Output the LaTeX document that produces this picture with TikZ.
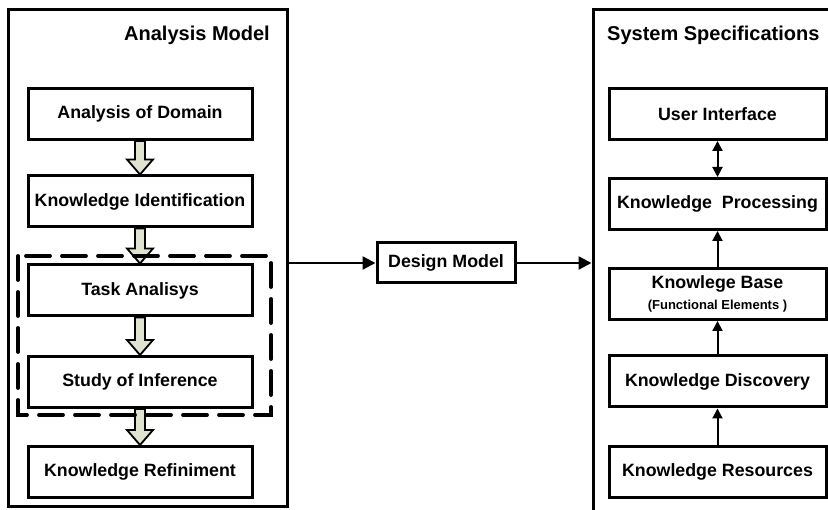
\documentclass[tikz,border=0pt]{standalone}
\usepackage{fontspec}
\setmainfont{Liberation Sans}
\usepackage{xcolor}
\usetikzlibrary{arrows.meta, positioning, calc}
\definecolor{sage}{HTML}{DFE3CF}
\tikzset{
  panel/.style={rectangle, draw, line width=3pt, inner sep=0pt},
  box/.style={rectangle, draw, line width=3pt, minimum height=51pt, align=center, font=\fontsize{17.8}{20}\selectfont\bfseries},
  lbox/.style={box, minimum width=224pt},
  rbox/.style={box, minimum width=217pt},
  title/.style={font=\fontsize{20}{24}\selectfont\bfseries, inner sep=0pt},
  arrow/.style={-{Triangle[length=10pt,width=10pt]}, line width=2pt},
  bigarrow/.style={-{Triangle[length=13pt,width=13pt]}, line width=2.4pt},
  fatarr/.style={draw, fill=sage, line width=1.8pt, line join=miter},
}
\newcommand\fatarrow[2]{%
  \draw[fatarr] let \p1=(#1.south), \p2=(#2.north) in
    (\x1-5pt,\y1) -- (\x1-5pt,\y2+15pt) -- (\x1-13pt,\y2+15pt) -- (\x1,\y2)
    -- (\x1+13pt,\y2+15pt) -- (\x1+5pt,\y2+15pt) -- (\x1+5pt,\y1) -- cycle;}

\begin{document}
\begin{tikzpicture}[x=1pt, y=1pt]
    \path[use as bounding box, clip] (0,0) rectangle (828,510);

    % analysis side
    \node[panel, minimum width=279pt, minimum height=497pt] (leftpanel) at (147.5,251.5) {};
    \node[title, anchor=east] (lefttitle) at (270,475) {Analysis Model};
    \node[lbox] (domain) at (140,396) {Analysis of Domain};
    \node[lbox] (ident) at (140,308.5) {Knowledge Identification};
    \node[lbox] (task) at (140,219.5) {Task Analisys};
    \node[lbox] (infer) at (140,128) {Study of Inference};
    \node[lbox] (refine) at (140,38) {Knowledge Refiniment};
    \fatarrow{domain}{ident}
    \fatarrow{ident}{task}
    \fatarrow{task}{infer}
    \fatarrow{infer}{refine}
    \draw[dashed, line width=3.8pt, dash pattern=on 24pt off 12pt, line cap=round]
      (18,254) rectangle (271,95);

    % design
    \node[box, minimum width=138pt, minimum height=40pt] (design) at (446,247) {Design Model};

    % specification side
    \node[panel, minimum width=260pt, minimum height=520pt] (rightpanel) at (723,240) {};
    \node[title, anchor=west] (righttitle) at (607,475) {System Specifications};
    \node[rbox] (ui) at (717.5,396) {User Interface};
    \node[rbox] (proc) at (717.5,306) {Knowledge\ \ Processing};
    \node[rbox] (base) at (717.5,216) {Knowlege Base\\[1pt]{\fontsize{13}{15}\selectfont (Functional Elements )}};
    \node[rbox] (disc) at (717.5,128.5) {Knowledge Discovery};
    \node[rbox] (res) at (717.5,38) {Knowledge Resources};

    \draw[arrow, {Triangle[length=10pt,width=10pt]}-{Triangle[length=10pt,width=10pt]}] (ui) -- (proc);
    \draw[arrow] (base) -- (proc);
    \draw[arrow] (disc) -- (base);
    \draw[arrow] (res) -- (disc);

    \draw[bigarrow] (design.west -| leftpanel.east) -- (design);
    \draw[bigarrow] (design) -- (design.east -| rightpanel.west);
  \end{tikzpicture}
\end{document}
